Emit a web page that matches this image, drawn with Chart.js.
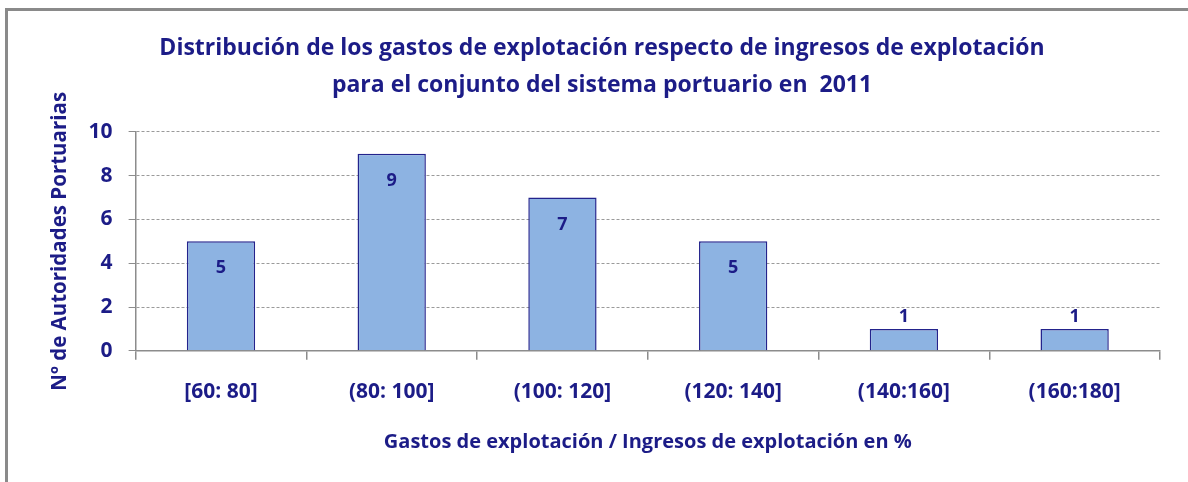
<!DOCTYPE html>
<html>
<head>
<meta charset="utf-8">
<script src="https://cdn.jsdelivr.net/npm/chart.js@4"></script>
<style>
  html, body { margin: 0; padding: 0; background: #fff; }
  #wrap { position: relative; width: 1188px; height: 482px; overflow: hidden; }
  #frame { position: absolute; left: 5px; top: 8px; right: -10px; bottom: -10px;
           border-top: 3px solid #8a8a8a; border-left: 3px solid #8a8a8a; }
  canvas { position: absolute; left: 0; top: 0; }
</style>
</head>
<body>
<div id="wrap">
  <div id="frame"></div>
  <canvas id="chart" width="1188" height="482"></canvas>
</div>
<script>
// tramos de gastos / ingresos de explotación (%)
var tramos = ['[60: 80]', '(80: 100]', '(100: 120]', '(120: 140]', '(140:160]', '(160:180]'];
// número de autoridades portuarias en cada tramo
var autoridades = [5, 9, 7, 5, 1, 1];
var yTicks = [0, 2, 4, 6, 8, 10];

var navy = '#1c1c87';
var font = 'Open Sans';

// etiqueta con el valor: dentro de la barra si cabe, encima si es baja
var valueLabels = {
  id: 'valueLabels',
  afterDatasetsDraw: function(chart){
    var ctx = chart.ctx;
    var meta = chart.getDatasetMeta(0);
    ctx.save();
    ctx.fillStyle = navy;
    ctx.font = 'bold 18px ' + font;
    ctx.textAlign = 'center';
    ctx.textBaseline = 'middle';
    meta.data.forEach(function(bar, i){
      var v = autoridades[i];
      var y = v >= 3 ? bar.y + 27 : bar.y - 12;
      ctx.fillText(String(v), bar.x, y);
    });
    ctx.restore();
  }
};

new Chart(document.getElementById('chart'), {
  type: 'bar',
  data: {
    labels: tramos,
    datasets: [{
      data: autoridades,
      backgroundColor: '#8db3e2',
      borderColor: '#23238c',
      borderWidth: 1.5,
      categoryPercentage: 1,
      barPercentage: 0.4
    }]
  },
  options: {
    responsive: false,
    animation: false,
    layout: { padding: { left: 44, right: 28, top: 14, bottom: 24 } },
    plugins: {
      legend: { display: false },
      tooltip: { enabled: false },
      title: {
        display: true,
        text: ['Distribución de los gastos de explotación respecto de ingresos de explotación',
               'para el conjunto del sistema portuario en  2011'],
        color: navy,
        font: { family: font, size: 23, weight: 'bold', lineHeight: 1.65 },
        padding: { top: 15, bottom: 27 }
      }
    },
    scales: {
      x: {
        grid: { offset: true, drawOnChartArea: false, color: '#8c8c8c', tickLength: 9, lineWidth: 1.5 },
        border: { color: '#8c8c8c', width: 1.5 },
        ticks: { color: navy, font: { family: font, size: 21, weight: 'bold' }, padding: 20 },
        title: {
          display: true,
          text: 'Gastos de explotación / Ingresos de explotación en %',
          color: navy,
          font: { family: font, size: 20, weight: 'bold' },
          padding: { top: 5 }
        }
      },
      y: {
        min: 0,
        max: 10,
        afterBuildTicks: function(axis){ axis.ticks = yTicks.map(function(v){ return { value: v }; }); },
        grid: {
          color: '#9a9a9a',
          tickColor: '#8c8c8c',
          tickLength: 7,
          lineWidth: 1
        },
        border: { color: '#8c8c8c', width: 1.5, dash: [3, 2] },
        ticks: { color: navy, font: { family: font, size: 21, weight: 'bold' }, padding: 16 },
        title: {
          display: true,
          text: 'Nº de Autoridades Portuarias',
          color: navy,
          font: { family: font, size: 20.5, weight: 'bold' },
          padding: { bottom: 0 }
        }
      }
    }
  },
  plugins: [valueLabels]
});
</script>
</body>
</html>
